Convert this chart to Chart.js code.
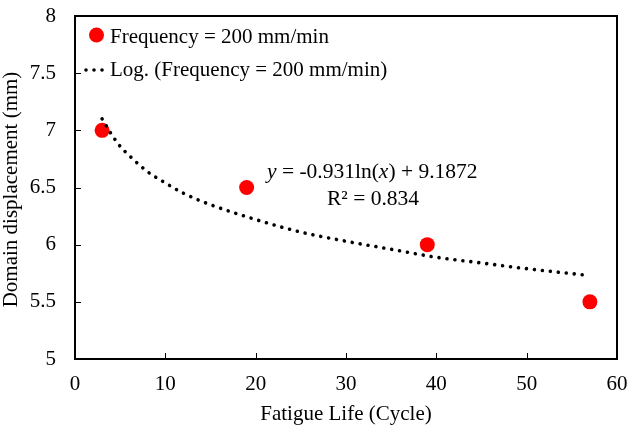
<!DOCTYPE html>
<html>
<head>
<meta charset="utf-8">
<script src="https://cdn.jsdelivr.net/npm/chart.js@4/dist/chart.umd.min.js"></script>
<style>
  html, body { margin: 0; background: #fff; }
  #wrap { width: 627px; height: 426px; }
</style>
</head>
<body>
<div id="wrap"><canvas id="chart" width="627" height="426"></canvas></div>
<script>
// measured points
const cycles = [3, 19, 39, 57];
const displacement = [7, 6.5, 6, 5.5];
// dotted log trend line
const trendCycles = [3, 4, 5, 6, 8, 10, 12, 15, 20, 25, 30, 35, 40, 45, 50, 57];
const trendDisp = [7.10, 6.97, 6.86, 6.78, 6.64, 6.54, 6.45, 6.35, 6.22, 6.11, 6.03, 5.96, 5.89, 5.84, 5.79, 5.73];
const xTicks = [0, 10, 20, 30, 40, 50, 60];
const yTicks = [5, 5.5, 6, 6.5, 7, 7.5, 8];

const seriesLabel = "Frequency = 200 mm/min";
const trendLabel = "Log. (Frequency = 200 mm/min)";
const eqLine1 = ["y", " = -0.931ln(", "x", ") + 9.1872"];
const eqLine2 = "R\u00b2 = 0.834";
const xTitle = "Fatigue Life (Cycle)";
const yTitle = "Domain displacement (mm)";

const SERIF = "'Liberation Serif', 'Times New Roman', serif";
const RED = "#ff0000";
const DOTS = [0.01, 8];

const frame = {
  id: "frame",
  afterDatasetsDraw(chart) {
    const { ctx, chartArea: a, scales } = chart;
    ctx.save();
    ctx.strokeStyle = "#000";
    ctx.lineWidth = 1;
    // inside tick marks
    ctx.beginPath();
    xTicks.forEach((v) => {
      const px = Math.round(scales.x.getPixelForValue(v)) + 0.5;
      ctx.moveTo(px, a.bottom);
      ctx.lineTo(px, a.bottom - 6);
    });
    yTicks.forEach((v) => {
      const py = Math.round(scales.y.getPixelForValue(v)) + 0.5;
      ctx.moveTo(a.left, py);
      ctx.lineTo(a.left + 6, py);
    });
    ctx.stroke();
    ctx.lineWidth = 2;
    ctx.strokeRect(a.left, a.top, a.right - a.left, a.bottom - a.top);

    // axis titles
    ctx.fillStyle = "#000";
    ctx.font = "21px " + SERIF;
    ctx.textAlign = "center";
    ctx.textBaseline = "alphabetic";
    ctx.fillText(xTitle, (a.left + a.right) / 2, 420);
    ctx.save();
    ctx.translate(17, (a.top + a.bottom) / 2 + 2);
    ctx.rotate(-Math.PI / 2);
    ctx.fillText(yTitle, 0, 0);
    ctx.restore();

    // legend
    ctx.fillStyle = RED;
    ctx.beginPath();
    ctx.arc(96.5, 35, 7.5, 0, Math.PI * 2);
    ctx.fill();
    ctx.fillStyle = "#000";
    ctx.textAlign = "left";
    ctx.fillText(seriesLabel, 110, 43);
    ctx.fillText(trendLabel, 110, 76);
    ctx.lineWidth = 3.6;
    ctx.lineCap = "round";
    ctx.setLineDash(DOTS);
    ctx.beginPath();
    ctx.moveTo(86, 70);
    ctx.lineTo(104, 70);
    ctx.stroke();
    ctx.setLineDash([]);

    // trendline equation
    let x = 267;
    eqLine1.forEach((part, i) => {
      ctx.font = (i % 2 === 0 ? "italic " : "") + "21.5px " + SERIF;
      ctx.fillText(part, x, 178);
      x += ctx.measureText(part).width;
    });
    ctx.font = "21.5px " + SERIF;
    ctx.textAlign = "center";
    ctx.fillText(eqLine2, 373, 205);
    ctx.restore();
  },
};

const noPad = (s) => {
  s.paddingLeft = 0;
  s.paddingRight = 0;
  s.paddingTop = 0;
  s.paddingBottom = 0;
};

new Chart(document.getElementById("chart"), {
  type: "scatter",
  data: {
    datasets: [
      {
        label: trendLabel,
        data: trendCycles.map((x, i) => ({ x, y: trendDisp[i] })),
        showLine: true,
        borderColor: "#000",
        borderWidth: 3.6,
        borderDash: DOTS,
        borderCapStyle: "round",
        cubicInterpolationMode: "monotone",
        pointRadius: 0,
        order: 0,
      },
      {
        label: seriesLabel,
        data: cycles.map((x, i) => ({ x, y: displacement[i] })),
        backgroundColor: RED,
        borderColor: RED,
        borderWidth: 0,
        pointRadius: 7.5,
        pointHoverRadius: 7.5,
        order: 1,
      },
    ],
  },
  options: {
    responsive: false,
    animation: false,
    layout: { padding: { top: 16, right: 10, bottom: 0, left: 0 } },
    plugins: { legend: { display: false }, tooltip: { enabled: false } },
    scales: {
      x: {
        type: "linear",
        min: 0,
        max: 60,
        afterBuildTicks: (s) => { s.ticks = xTicks.map((v) => ({ value: v })); },
        afterFit: (s) => { s.height = 67; noPad(s); },
        grid: { display: false, drawTicks: false },
        border: { display: false },
        ticks: { color: "#000", padding: 13, font: { family: SERIF, size: 21 } },
      },
      y: {
        min: 5,
        max: 8,
        afterBuildTicks: (s) => { s.ticks = yTicks.map((v) => ({ value: v })); },
        afterFit: (s) => { s.width = 75; noPad(s); },
        grid: { display: false, drawTicks: false },
        border: { display: false },
        ticks: { color: "#000", padding: 19, font: { family: SERIF, size: 21 }, callback: (v) => String(v) },
      },
    },
  },
  plugins: [frame],
});
</script>
</body>
</html>
